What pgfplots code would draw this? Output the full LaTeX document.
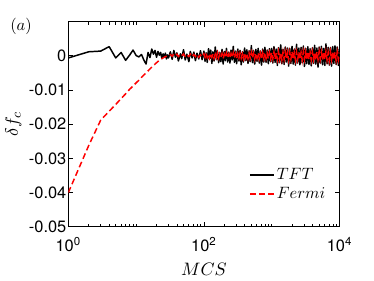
\documentclass[border=0pt]{standalone}
\usepackage{fontspec}
\setmainfont{TeX Gyre Heros}
\usepackage{pgfplots}
\pgfplotsset{compat=1.18}
\begin{document}
\begin{tikzpicture}
\begin{axis}[
  at={(0,0)}, anchor=south west,
  scale only axis, width=165pt, height=124.8pt,
  xmode=log, xmin=1, xmax=10000, ymin=-0.05, ymax=0.01,
  scaled y ticks=false,
  xtick={1,100,10000},
  xticklabels={10\textsuperscript{0},10\textsuperscript{2},10\textsuperscript{4}},
  minor xtick={2,3,4,5,6,7,8,9,10,20,30,40,50,60,70,80,90,200,300,400,500,600,700,800,900,1000,2000,3000,4000,5000,6000,7000,8000,9000},
  ytick={-0.05,-0.04,-0.03,-0.02,-0.01,0},
  yticklabels={-0.05,-0.04,-0.03,-0.02,-0.01,0},
  xtick pos=both, ytick pos=both,
  tick align=inside, major tick length=3pt, minor tick length=1.8pt,
  axis line style={line width=0.5pt},
  every tick/.style={black, line width=0.5pt},
  ticklabel style={font=\fontsize{10}{12}\selectfont},
  yticklabel style={inner xsep=1pt},
  xticklabel style={yshift=-3pt},
  xlabel={$MCS$}, ylabel={$\delta f_c$},
  label style={font=\fontsize{11}{13}\selectfont},
  legend style={draw=none, fill=none, inner sep=0pt, at={(axis description cs:0.955,0.206)}, anchor=east,
    font=\fontsize{10}{12}\selectfont, nodes={inner xsep=1pt, inner ysep=1.5pt}},
  legend cell align=left,
  legend image code/.code={\draw[mark repeat=2,mark phase=2] plot coordinates {(0pt,0pt) (7.5pt,0pt) (15pt,0pt)};},
  clip=true,
]
\addplot[black, line width=0.9pt, line join=round] table {
x y
1 -0.0006
2 0.0012
3 0.0014
4 0.0027
5 -0.0006
6 0.0010
7 -0.0013
8 0.0002
9 0.0017
10 0.0001
11 -0.0003
12 0.0004
13 -0.0012
14 -0.0024
15 0.0010
16 -0.0005
17 0.0020
18 0.0005
19 0.0016
20 -0.0004
21 0.0013
22 0.0002
23 0.0010
24 -0.0008
25 0.0006
26 -0.0004
27 0.0008
28 -0.0009
29 0.0003
30 -0.0006
32 0.0012
34 -0.0010
36 0.0016
38 -0.0004
40 0.0009
42 -0.0015
45 0.0006
47 -0.0008
50 0.0018
53 -0.0012
56 0.0005
60 -0.0017
63 0.0013
67 -0.0006
71 0.0011
75 -0.0014
79 0.0008
84 -0.0009
89 0.0015
94 -0.0011
100 0.0014
104 -0.0016
108 0.0009
112 -0.0019
117 0.0021
121 -0.0008
126 0.0017
131 -0.0022
136 0.0012
141 -0.0015
147 0.0026
153 -0.0011
158 0.0015
165 -0.0020
171 0.0010
178 -0.0017
185 0.0019
192 -0.0024
200 0.0013
207 -0.0014
215 0.0022
224 -0.0018
233 0.0011
242 -0.0021
251 0.0017
261 -0.0012
271 0.0028
282 -0.0019
293 0.0014
304 -0.0023
316 0.0020
329 -0.0015
341 0.0016
355 -0.0026
369 0.0012
383 -0.0018
398 0.0023
414 -0.0014
430 0.0018
447 -0.0022
464 0.0015
482 -0.0017
501 0.0030
521 -0.0020
541 0.0016
562 -0.0024
584 0.0019
607 -0.0016
631 0.0022
656 -0.0021
681 0.0014
708 -0.0027
736 0.0020
764 -0.0018
794 0.0025
825 -0.0019
858 0.0017
891 -0.0023
926 0.0021
962 -0.0017
1000 0.0022
1039 -0.0021
1080 0.0027
1122 -0.0019
1166 0.0020
1212 -0.0028
1259 0.0024
1308 -0.0020
1359 0.0032
1413 -0.0023
1468 0.0019
1526 -0.0025
1585 0.0026
1647 -0.0018
1711 0.0023
1778 -0.0030
1848 0.0021
1920 -0.0022
1995 0.0028
2073 -0.0024
2154 0.0020
2239 -0.0027
2326 0.0034
2417 -0.0021
2512 0.0023
2610 -0.0026
2712 0.0025
2818 -0.0020
2929 0.0029
3043 -0.0031
3162 0.0022
3286 -0.0023
3415 0.0027
3548 -0.0025
3687 0.0021
3831 -0.0029
3981 0.0024
4137 -0.0022
4299 0.0031
4467 -0.0024
4642 0.0023
4823 -0.0033
5012 0.0026
5208 -0.0021
5412 0.0028
5623 -0.0026
5843 0.0022
6072 -0.0028
6310 0.0035
6556 -0.0023
6813 0.0025
7079 -0.0027
7356 0.0024
7644 -0.0030
7943 0.0027
8254 -0.0022
8577 0.0029
8913 -0.0025
9261 0.0026
9624 -0.0028
10000 0.0020
};
\addlegendentry{$TFT$}
\addplot[red, line width=0.9pt, dash pattern=on 3.6pt off 2pt] table {
x y
1 -0.0400
2 -0.0262
3 -0.0188
4 -0.0162
5 -0.0142
6 -0.0125
7 -0.0111
8 -0.0098
9 -0.0088
10 -0.0079
11 -0.0071
12 -0.0063
13 -0.0056
14 -0.0050
15 -0.0044
16 -0.0038
17 -0.0033
18 -0.0028
19 -0.0024
20 -0.0020
22 -0.0013
24 -0.0008
26 -0.0004
28 -0.0001
30 0.0002
32 0.0004
34 -0.0001
36 0.0006
38 0.0001
40 0.0005
42 -0.0002
45 0.0004
47 0.0000
50 0.0006
53 -0.0003
56 0.0003
60 -0.0002
63 0.0005
67 -0.0003
71 0.0004
75 -0.0002
79 0.0005
84 -0.0004
89 0.0003
94 -0.0003
100 0.0006
104 -0.0004
108 0.0007
112 -0.0005
117 0.0005
121 -0.0006
126 0.0008
131 -0.0004
136 0.0006
141 -0.0007
147 0.0005
153 -0.0005
158 0.0009
165 -0.0006
171 0.0006
178 -0.0004
185 0.0007
192 -0.0008
200 0.0005
207 -0.0005
215 0.0008
224 -0.0006
233 0.0006
242 -0.0007
251 0.0007
261 -0.0005
271 0.0009
282 -0.0006
293 0.0006
304 -0.0008
316 0.0007
329 -0.0006
341 0.0008
355 -0.0007
369 0.0006
383 -0.0008
398 0.0009
414 -0.0006
430 0.0007
447 -0.0008
464 0.0008
482 -0.0007
501 0.0010
521 -0.0007
541 0.0008
562 -0.0009
584 0.0008
607 -0.0007
631 0.0009
656 -0.0008
681 0.0007
708 -0.0010
736 0.0009
764 -0.0007
794 0.0010
825 -0.0008
858 0.0008
891 -0.0009
926 0.0009
962 -0.0008
1000 0.0010
1039 -0.0009
1080 0.0011
1122 -0.0010
1166 0.0009
1212 -0.0011
1259 0.0012
1308 -0.0009
1359 0.0010
1413 -0.0012
1468 0.0011
1526 -0.0010
1585 0.0012
1647 -0.0009
1711 0.0010
1778 -0.0012
1848 0.0011
1920 -0.0010
1995 0.0013
2073 -0.0011
2154 0.0010
2239 -0.0012
2326 0.0011
2417 -0.0010
2512 0.0012
2610 -0.0011
2712 0.0010
2818 -0.0013
2929 0.0012
3043 -0.0010
3162 0.0011
3286 -0.0012
3415 0.0013
3548 -0.0011
3687 0.0010
3831 -0.0012
3981 0.0012
4137 -0.0010
4299 0.0011
4467 -0.0013
4642 0.0012
4823 -0.0011
5012 0.0013
5208 -0.0010
5412 0.0011
5623 -0.0012
5843 0.0012
6072 -0.0011
6310 0.0013
6556 -0.0012
6813 0.0010
7079 -0.0013
7356 0.0012
7644 -0.0011
7943 0.0012
8254 -0.0012
8577 0.0011
8913 -0.0013
9261 0.0012
9624 -0.0011
10000 0.0010
};
\addlegendentry{$Fermi$}
\end{axis}
\node[font=\fontsize{10}{12}\selectfont] at (-28.8pt,121.8pt) {$(a)$};
\path (-38.4pt,-30.6pt) rectangle (186pt,138pt);
\end{tikzpicture}
\end{document}
